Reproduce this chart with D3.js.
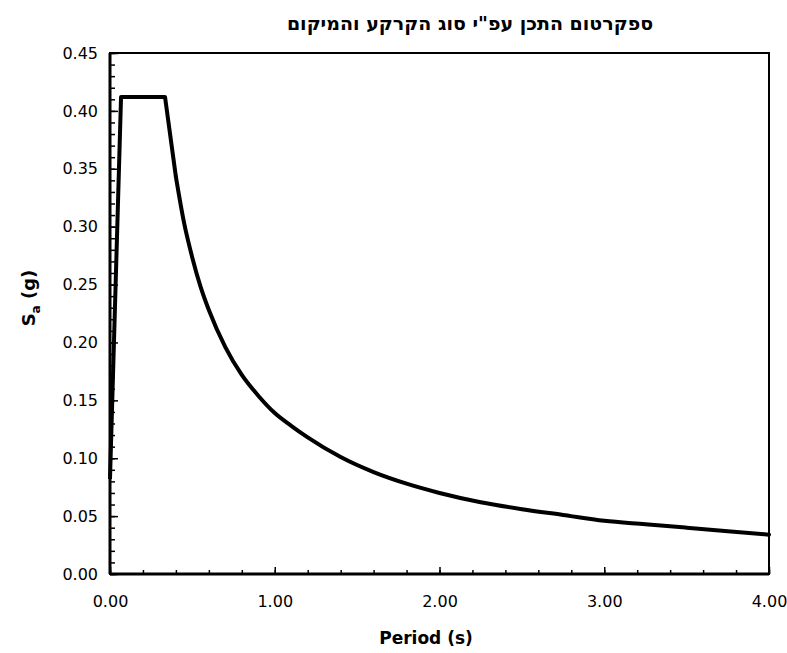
<!DOCTYPE html>
<html>
<head>
<meta charset="utf-8">
<script src="https://cdn.jsdelivr.net/npm/d3@7"></script>
<style>
	body { margin: 0; background: #fff; }
	svg { display: block; }
</style>
</head>
<body>
<div id="chart"></div>
<script>
// Spectrum values
const periods = [0, 0.067, 0.334, 0.4, 0.45, 0.5, 0.55, 0.6, 0.7, 0.8, 0.9, 1.0, 1.1, 1.2, 1.4, 1.6, 1.8, 2.0, 2.25, 2.5, 2.75, 3.0, 3.25, 3.5, 3.75, 4.0];
const sa = [0.082, 0.412, 0.412, 0.343, 0.303, 0.273, 0.248, 0.228, 0.196, 0.172, 0.154, 0.139, 0.128, 0.118, 0.101, 0.088, 0.078, 0.070, 0.062, 0.056, 0.051, 0.046, 0.043, 0.040, 0.037, 0.034];
const xTicks = [0, 1, 2, 3, 4];
const yTicks = [0, 0.05, 0.1, 0.15, 0.2, 0.25, 0.3, 0.35, 0.4, 0.45];

const titleText = "ספקרטום התכן עפ\"י סוג הקרקע והמיקום";

const W = 787, H = 653;
const margin = { top: 53, right: 18, bottom: 79, left: 110 },
	width = W - margin.left - margin.right,
	height = H - margin.top - margin.bottom;

const svg = d3.select("#chart")
	.append("svg")
	.attr("width", W)
	.attr("height", H);

const g = svg.append("g")
	.attr("transform", `translate(${margin.left},${margin.top})`);

const x = d3.scaleLinear().domain([0, 4]).range([0, width]);
const y = d3.scaleLinear().domain([0, 0.45]).range([height, 0]);

// plot frame
g.append("rect")
	.attr("width", width)
	.attr("height", height)
	.attr("fill", "none")
	.attr("stroke", "#000")
	.attr("stroke-width", 2);

// minor ticks pointing inward
g.append("g")
	.call(d3.axisRight(y).tickValues(d3.range(0, 0.451, 0.01)).tickSize(5).tickFormat(""))
	.call(a => a.select(".domain").remove())
	.selectAll("line").attr("stroke-width", 1.5);
g.append("g")
	.call(d3.axisRight(y).tickValues(yTicks).tickSize(8).tickFormat(""))
	.call(a => a.select(".domain").remove())
	.selectAll("line").attr("stroke-width", 1.5);
g.append("g")
	.attr("transform", `translate(0,${height})`)
	.call(d3.axisTop(x).tickValues(d3.range(0, 4.01, 0.2)).tickSize(4).tickFormat(""))
	.call(a => a.select(".domain").remove())
	.selectAll("line").attr("stroke-width", 1.5);
g.append("g")
	.attr("transform", `translate(0,${height})`)
	.call(d3.axisTop(x).tickValues(xTicks).tickSize(7).tickFormat(""))
	.call(a => a.select(".domain").remove())
	.selectAll("line").attr("stroke-width", 1.5);

// tick labels
g.append("g")
	.call(d3.axisLeft(y).tickValues(yTicks).tickSize(0).tickPadding(12).tickFormat(d3.format(".2f")))
	.call(a => a.select(".domain").remove())
	.selectAll("text")
	.attr("fill", "#000")
	.style("font-size", "16px")
	.style("font-family", "DejaVu Sans");
g.append("g")
	.attr("transform", `translate(0,${height})`)
	.call(d3.axisBottom(x).tickValues(xTicks).tickSize(0).tickPadding(22).tickFormat(d3.format(".2f")))
	.call(a => a.select(".domain").remove())
	.selectAll("text")
	.attr("fill", "#000")
	.style("font-size", "16px")
	.style("font-family", "DejaVu Sans");

// thicker left and bottom axis lines
g.append("line").attr("x1", 0).attr("x2", 0).attr("y1", 0).attr("y2", height)
	.attr("stroke", "#000").attr("stroke-width", 3);
g.append("line").attr("x1", 0).attr("x2", width).attr("y1", height).attr("y2", height)
	.attr("stroke", "#000").attr("stroke-width", 3);

// spectrum line: straight ramp and plateau, smooth decay after it
const data = periods.map((p, i) => [p, sa[i]]);
const straight = d3.line().x(d => x(d[0])).y(d => y(d[1]));
const smooth = d3.line().x(d => x(d[0])).y(d => y(d[1])).curve(d3.curveMonotoneX);
g.append("path")
	.datum(data.slice(0, 4))
	.attr("d", straight)
	.attr("fill", "none")
	.attr("stroke", "#000")
	.attr("stroke-width", 4)
	.attr("stroke-linejoin", "round");
g.append("path")
	.datum(data.slice(3))
	.attr("d", smooth)
	.attr("fill", "none")
	.attr("stroke", "#000")
	.attr("stroke-width", 4)
	.attr("stroke-linecap", "round");

// title
svg.append("text")
	.attr("x", 470)
	.attr("y", 30)
	.attr("text-anchor", "middle")
	.attr("direction", "rtl")
	.style("font-size", "19px")
	.style("font-weight", "bold")
	.style("font-family", "DejaVu Sans")
	.text(titleText);

// axis titles
svg.append("text")
	.attr("x", 426)
	.attr("y", 644)
	.attr("text-anchor", "middle")
	.style("font-size", "17px")
	.style("font-weight", "bold")
	.style("font-family", "DejaVu Sans")
	.text("Period (s)");

const yl = svg.append("text")
	.attr("transform", `translate(35,298) rotate(-90)`)
	.attr("text-anchor", "middle")
	.style("font-size", "18px")
	.style("font-weight", "bold")
	.style("font-family", "DejaVu Sans");
yl.append("tspan").text("S");
yl.append("tspan").attr("dy", 5).style("font-size", "12px").text("a");
yl.append("tspan").attr("dy", -5).text(" (g)");
</script>
</body>
</html>
